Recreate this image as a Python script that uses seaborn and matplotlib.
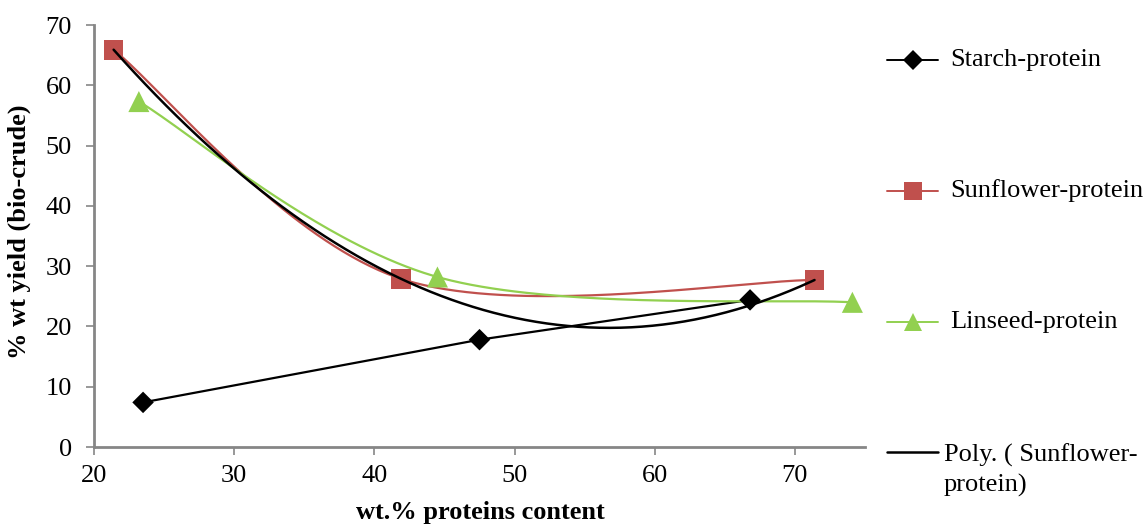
import numpy as np
import pandas as pd
import matplotlib
matplotlib.use("Agg")
import matplotlib.pyplot as plt
from matplotlib.lines import Line2D
import seaborn as sns

# Protein content (wt.%) and bio-crude yield (% wt) for each feedstock blend
starch_x = [23.5, 47.5, 66.8]
starch_y = [7.4, 17.8, 24.4]
sunflower_x = [21.4, 41.9, 71.4]
sunflower_y = [65.9, 27.9, 27.7]
linseed_x = [23.2, 44.5, 74.1]
linseed_y = [57.3, 28.2, 24.0]

series_labels = ["Starch-protein", "Sunflower-protein", "Linseed-protein",
                 "Poly. ( Sunflower-\nprotein)"]
x_ticks = [20, 30, 40, 50, 60, 70]
y_ticks = [0, 10, 20, 30, 40, 50, 60, 70]

BLACK = "#000000"
RED = "#C0504D"
GREEN = "#92D050"
AXIS_GREY = "#868686"
FS = 19


def smooth_curve(xs, ys, n=80):
    """Piecewise cubic Bezier through the points (Catmull-Rom style tangents)."""
    pts = np.column_stack([xs, ys]).astype(float)
    m = len(pts)
    out = []
    for i in range(m - 1):
        p0 = pts[i]
        p3 = pts[i + 1]
        prev = pts[i - 1] if i > 0 else pts[i]
        nxt = pts[i + 2] if i + 2 < m else pts[i + 1]
        c1 = p0 + (p3 - prev) / 6.0
        c2 = p3 - (nxt - p0) / 6.0
        t = np.linspace(0, 1, n)[:, None]
        seg = ((1 - t) ** 3) * p0 + 3 * ((1 - t) ** 2) * t * c1 \
            + 3 * (1 - t) * t ** 2 * c2 + t ** 3 * p3
        out.append(seg if i == 0 else seg[1:])
    arr = np.vstack(out)
    return arr[:, 0], arr[:, 1]


sns.set_theme(style="white")
plt.rcParams["font.family"] = ["Liberation Serif", "DejaVu Serif"]
plt.rcParams["text.color"] = "black"

fig = plt.figure(figsize=(11.46, 5.24), dpi=100)
W, H = 1146, 524
ax = fig.add_axes([94 / W, 1 - 447 / H, (865 - 94) / W, (447 - 25) / H])

# Starch-protein: straight segments
df_starch = pd.DataFrame({"x": starch_x, "y": starch_y})
sns.lineplot(data=df_starch, x="x", y="y", ax=ax, color=BLACK, lw=1.6,
             sort=False, estimator=None)
sns.scatterplot(data=df_starch, x="x", y="y", ax=ax, color=BLACK, marker="D",
                s=120, edgecolor="none", zorder=5)

# Sunflower-protein: smoothed line
sx, sy = smooth_curve(sunflower_x, sunflower_y)
sns.lineplot(x=sx, y=sy, ax=ax, color=RED, lw=1.6, sort=False, estimator=None)
sns.scatterplot(x=sunflower_x, y=sunflower_y, ax=ax, color=RED, marker="s",
                s=200, edgecolor="none", zorder=5)

# Linseed-protein: smoothed line
lx, ly = smooth_curve(linseed_x, linseed_y)
sns.lineplot(x=lx, y=ly, ax=ax, color=GREEN, lw=1.6, sort=False, estimator=None)
sns.scatterplot(x=linseed_x, y=linseed_y, ax=ax, color=GREEN, marker="^",
                s=230, edgecolor="none", zorder=5)

# Second-order polynomial trendline of the sunflower series
coef = np.polyfit(sunflower_x, sunflower_y, 2)
px = np.linspace(min(sunflower_x), max(sunflower_x), 200)
sns.lineplot(x=px, y=np.polyval(coef, px), ax=ax, color=BLACK, lw=1.8,
             sort=False, estimator=None, zorder=6)

ax.set_xlim(20, 75)
ax.set_ylim(0, 70)
ax.set_xticks(x_ticks)
ax.set_yticks(y_ticks)
ax.tick_params(axis="both", which="major", direction="out", length=6,
               width=1.2, colors=AXIS_GREY, labelcolor="black",
               labelsize=FS, bottom=True, left=True)
ax.tick_params(axis="y", pad=10)
ax.tick_params(axis="x", pad=7)
for side in ["top", "right"]:
    ax.spines[side].set_visible(False)
for side in ["left", "bottom"]:
    ax.spines[side].set_color(AXIS_GREY)
    ax.spines[side].set_linewidth(2)
ax.grid(False)
ax.set_xlabel("")
ax.set_ylabel("")

fig.text(480 / W, 1 - 512 / H, "wt.% proteins content", ha="center",
         va="center", fontsize=FS, fontweight="bold", color="black")
fig.text(19 / W, 1 - 232 / H, "% wt yield (bio-crude)", ha="center",
         va="center", rotation=90, fontsize=FS, fontweight="bold",
         color="black")

# Legend entries laid out down the right-hand side
entries = [
    (BLACK, "D", 10, 60),
    (RED, "s", 13, 191),
    (GREEN, "^", 13, 322),
    (BLACK, None, 0, 452),
]
for (col, mk, ms, yc), label in zip(entries, series_labels):
    yf = 1 - yc / H
    fig.add_artist(Line2D([887 / W, 938 / W], [yf, yf], color=col,
                          lw=1.8 if mk is None else 1.4,
                          transform=fig.transFigure))
    if mk is not None:
        fig.add_artist(Line2D([913 / W], [yf], color=col, marker=mk,
                              markersize=ms, markeredgewidth=0,
                              transform=fig.transFigure))
        fig.text(950 / W, yf, label, ha="left", va="center", fontsize=FS,
                 color="black")
    else:
        fig.text(944 / W, 1 - 492 / H, label, ha="left", va="baseline",
                 fontsize=FS, linespacing=1.4, color="black")

fig.savefig("out.png", dpi=100)
